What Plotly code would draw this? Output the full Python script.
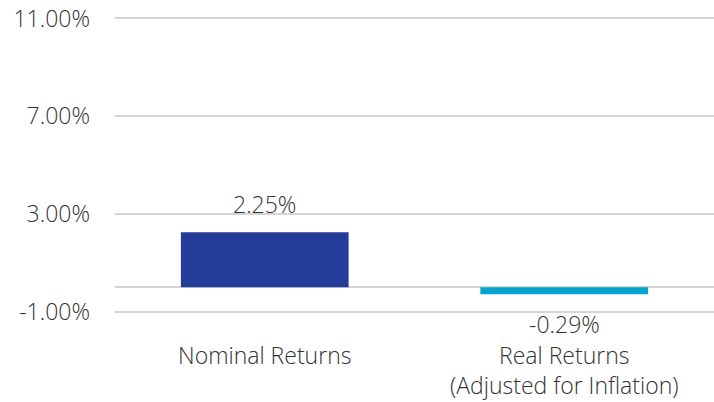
import plotly.graph_objects as go

categories = ["Nominal Returns", "Real Returns<br>(Adjusted for Inflation)"]
values = [2.25, -0.29]
colors = ["#253C98", "#05A3CF"]
y_ticks = [-1, 3, 7, 11]
y_tick_labels = ["-1.00%", "3.00%", "7.00%", "11.00%"]

FONT = "Open Sans"
TXT = "#333333"
FS = 23
W = 300

fig = go.Figure()
fig.add_trace(go.Bar(
    x=categories, y=values, marker_color=colors, marker_line_width=0,
    hoverinfo="skip",
))

for c, v in zip(categories, values):
    fig.add_annotation(
        x=c, y=v, text=f"{v:.2f}%", showarrow=False,
        yanchor="bottom" if v >= 0 else "top",
        yshift=10 if v >= 0 else -12,
        font=dict(family=FONT, size=FS, color=TXT, weight=W),
    )

fig.update_layout(
    width=714, height=402,
    margin=dict(l=115, r=0, t=16, b=88, autoexpand=False),
    paper_bgcolor="white", plot_bgcolor="white",
    bargap=0.44, showlegend=False,
    font=dict(family=FONT, size=FS, color=TXT, weight=W),
)
fig.update_xaxes(
    showgrid=False, showline=False, ticks="",
    tickfont=dict(family=FONT, size=FS, color=TXT, weight=W),
    ticklabelstandoff=26, automargin=False,
)
fig.update_yaxes(
    range=[-1.1, 11.1], tickvals=y_ticks, ticktext=y_tick_labels,
    showgrid=True, gridcolor="#d4d4d4", gridwidth=2,
    zeroline=True, zerolinecolor="#d4d4d4", zerolinewidth=2,
    showline=False, ticks="",
    tickfont=dict(family=FONT, size=FS, color=TXT, weight=W),
    ticklabelstandoff=24, automargin=False,
)

fig.write_html("out.html", config={"displayModeBar": False},
               post_script="document.body.style.margin='0';")
